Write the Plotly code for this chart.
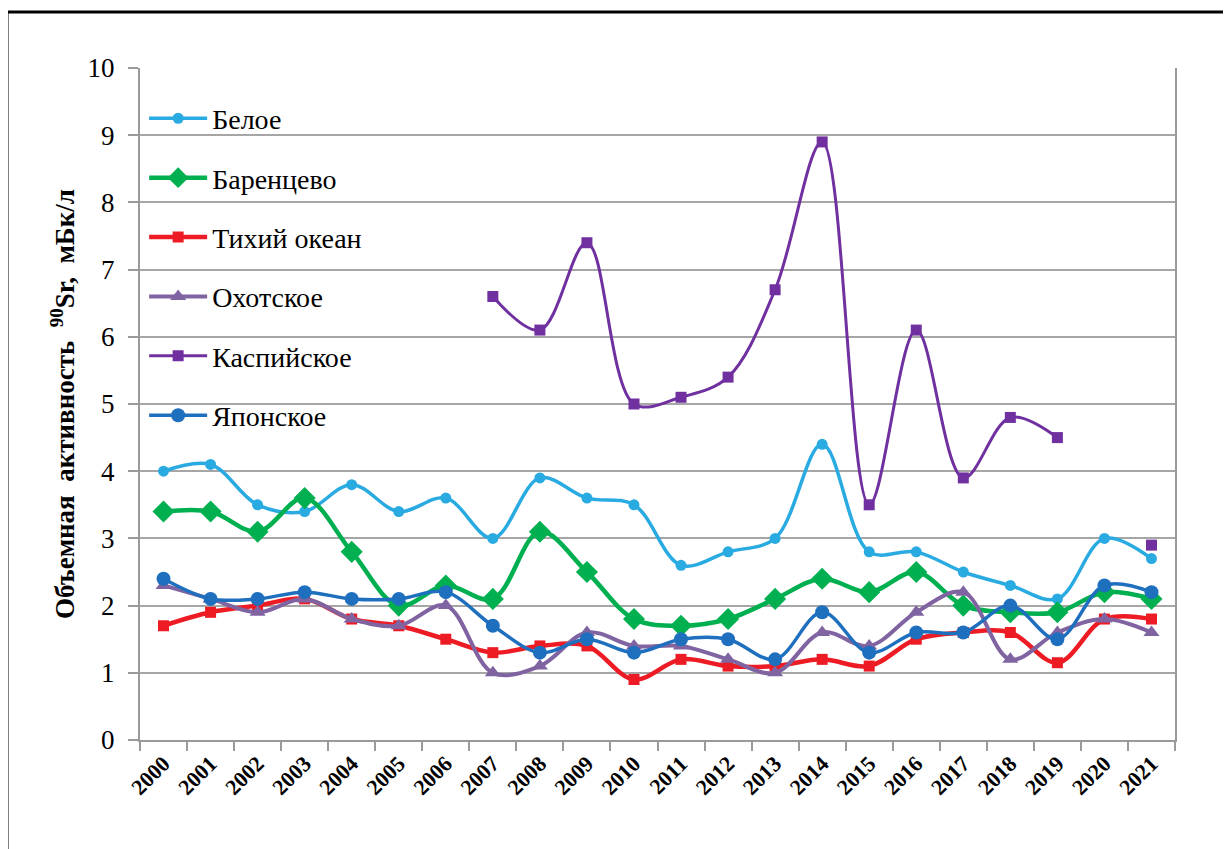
import plotly.graph_objects as go

years = [str(y) for y in range(2000, 2022)]

beloe = [4.0, 4.1, 3.5, 3.4, 3.8, 3.4, 3.6, 3.0, 3.9, 3.6, 3.5, 2.6, 2.8, 3.0, 4.4, 2.8, 2.8, 2.5, 2.3, 2.1, 3.0, 2.7]
barents = [3.4, 3.4, 3.1, 3.6, 2.8, 2.0, 2.3, 2.1, 3.1, 2.5, 1.8, 1.7, 1.8, 2.1, 2.4, 2.2, 2.5, 2.0, 1.9, 1.9, 2.2, 2.1]
pacific = [1.7, 1.9, 2.0, 2.1, 1.8, 1.7, 1.5, 1.3, 1.4, 1.4, 0.9, 1.2, 1.1, 1.1, 1.2, 1.1, 1.5, 1.6, 1.6, 1.15, 1.8, 1.8]
okhotsk = [2.3, 2.1, 1.9, 2.1, 1.8, 1.7, 2.0, 1.0, 1.1, 1.6, 1.4, 1.4, 1.2, 1.0, 1.6, 1.4, 1.9, 2.2, 1.2, 1.6, 1.8, 1.6]
caspian = [None, None, None, None, None, None, None, 6.6, 6.1, 7.4, 5.0, 5.1, 5.4, 6.7, 8.9, 3.5, 6.1, 3.9, 4.8, 4.5, None, 2.9]
japan = [2.4, 2.1, 2.1, 2.2, 2.1, 2.1, 2.2, 1.7, 1.3, 1.5, 1.3, 1.5, 1.5, 1.2, 1.9, 1.3, 1.6, 1.6, 2.0, 1.5, 2.3, 2.2]

y_ticks = list(range(0, 11))

series = [
    ("Белое", beloe, "#29ABE2", "circle", 11, 3.5),
    ("Баренцево", barents, "#00B050", "diamond", 17, 4.5),
    ("Тихий океан", pacific, "#ED1C24", "square", 11, 4.5),
    ("Охотское", okhotsk, "#8064A2", "triangle-up", 14, 4),
    ("Каспийское", caspian, "#7030A0", "square", 11, 3),
    ("Японское", japan, "#1F6FBF", "circle", 14, 3.5),
]

fig = go.Figure()
for i, (name, vals, color, sym, msize, lw) in enumerate(series):
    fig.add_trace(go.Scatter(
        x=years, y=vals, name=name, mode="lines+markers",
        line=dict(color=color, width=lw, shape="spline", smoothing=1.0),
        marker=dict(symbol=sym, size=msize, color=color),
        connectgaps=False, legendgroup=f"g{i}",
    ))

serif = "Times New Roman"
W, H = 1231, 849
off = 8  # page body margin
L, R, T, B = 140 - off, 1175 - off, 68 - off, 740 - off
pw, ph = R - L, B - T

def px(x):
    return (x - off - L) / pw

def py(y):
    return (B - (y - off)) / ph

axis_gray = "#9a9a9a"

fig.update_layout(
    width=W, height=H,
    margin=dict(l=L, r=W - R, t=T, b=H - B),
    paper_bgcolor="white", plot_bgcolor="white",
    font=dict(family=serif, color="black"),
    showlegend=True,
    legend=dict(
        x=0.004, y=0.962, xanchor="left", yanchor="top",
        font=dict(family=serif, size=28, color="black"),
        bgcolor="rgba(0,0,0,0)", tracegroupgap=20, itemwidth=58,
    ),
    xaxis=dict(
        type="category", range=[-0.5, 21.5], tickson="boundaries",
        ticks="outside", ticklen=9, tickcolor=axis_gray, tickwidth=1.5,
        showline=True, linecolor=axis_gray, linewidth=2,
        showgrid=False, tickangle=-45,
        tickfont=dict(family=serif, size=22, color="black", weight="bold"),
    ),
    yaxis=dict(
        range=[0, 10], tickvals=y_ticks, ticks="outside", ticklen=10,
        tickcolor=axis_gray, tickwidth=1.5, showline=True, linecolor=axis_gray,
        linewidth=2, mirror=True,
        showgrid=True, gridcolor="#a6a6a6", gridwidth=1.5, zeroline=False,
        ticklabelstandoff=8,
        tickfont=dict(family=serif, size=27, color="black"),
        title=dict(text="Объемная  активность  <sup>90</sup>Sr,  мБк/л",
                   font=dict(family=serif, size=27, color="black", weight="bold"),
                   standoff=5),
    ),
    shapes=[
        dict(type="line", xref="paper", yref="paper",
             x0=px(7), x1=px(1240), y0=py(12), y1=py(12),
             line=dict(color="black", width=3)),
        dict(type="line", xref="paper", yref="paper",
             x0=px(7), x1=px(7), y0=py(12), y1=py(870),
             line=dict(color="black", width=3)),
    ],
)

fig.write_html("out.html")
